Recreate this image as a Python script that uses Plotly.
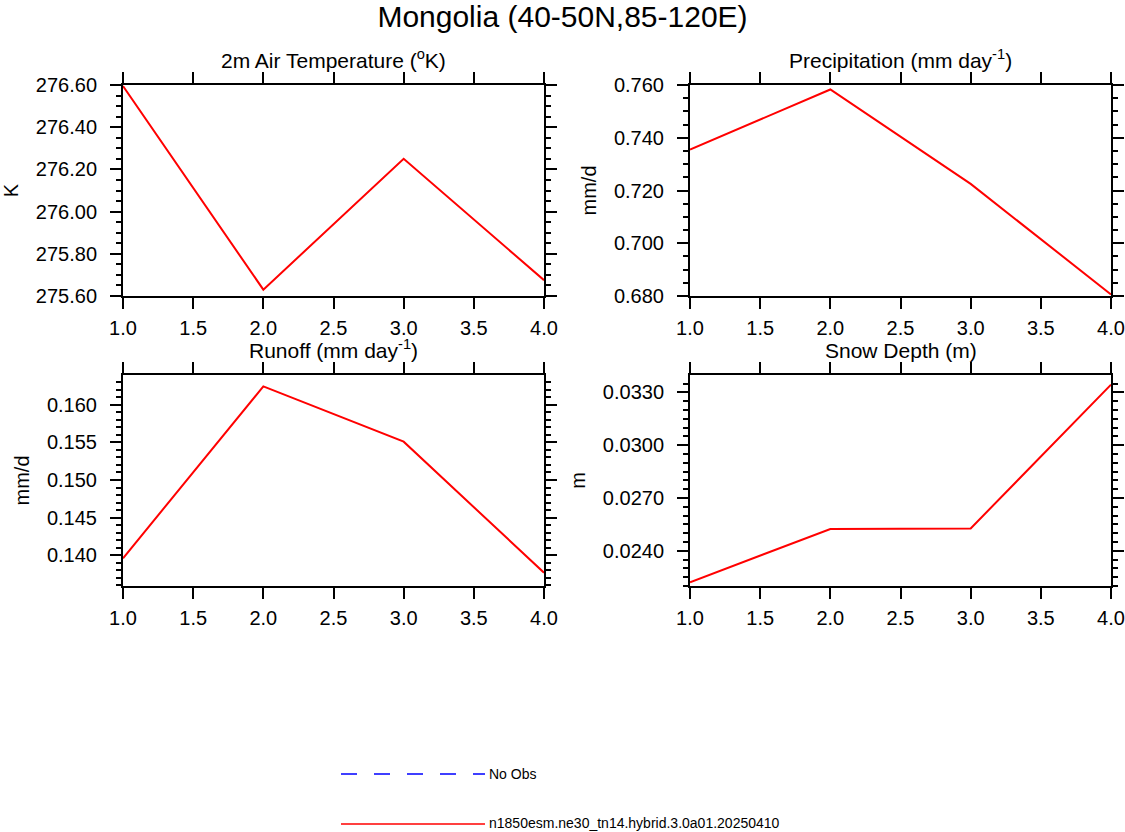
import plotly.graph_objects as go
from plotly.subplots import make_subplots

# values
years = [1, 2, 3, 4]
tas = [276.595, 275.63, 276.25, 275.675]
precip = [0.7355, 0.7583, 0.7225, 0.6806]
runoff = [0.1396, 0.16244, 0.15509, 0.13769]
snowdepth = [0.02221, 0.02524, 0.02527, 0.03344]

case_name = "n1850esm.ne30_tn14.hybrid.3.0a01.20250410"
titles = ["2m Air Temperature (<sup>o</sup>K)", "Precipitation (mm day<sup>-1</sup>)",
          "Runoff (mm day<sup>-1</sup>)", "Snow Depth (m)"]
units = ["K", "mm/d", "mm/d", "m"]

W, H = 1125, 832
FONT = "Liberation Sans, Arial, Helvetica, sans-serif"

fig = make_subplots(rows=2, cols=2)

series = [tas, precip, runoff, snowdepth]
for i, ys in enumerate(series):
    fig.add_trace(go.Scatter(x=years, y=ys, mode="lines", name=case_name,
                             line=dict(color="#ff0000", width=2),
                             showlegend=False),
                  row=i // 2 + 1, col=i % 2 + 1)

# plot boxes in pixels: (left, right, top, bottom)
boxes = [(123, 544, 85, 296), (690, 1111, 85, 296),
         (123, 544, 375, 586), (690, 1111, 375, 586)]
yaxes_cfg = [
    dict(range=[275.6, 276.6], tick0=275.6, dtick=0.2, tickformat=".2f", minor_dtick=0.05),
    dict(range=[0.68, 0.76], tick0=0.68, dtick=0.02, tickformat=".3f", minor_dtick=0.005),
    dict(range=[0.13592, 0.16395], tick0=0.14, dtick=0.005, tickformat=".3f", minor_dtick=0.001),
    dict(range=[0.0220, 0.03399], tick0=0.024, dtick=0.003, tickformat=".4f", minor_dtick=0.0005),
]

axis_common = dict(showline=True, linecolor="black", linewidth=2, mirror="ticks",
                   ticks="outside", ticklen=11, tickwidth=2, tickcolor="black",
                   showgrid=False, zeroline=False, automargin=False,
                   tickfont=dict(family=FONT, size=20, color="black"))

for i, (l, r, t, b) in enumerate(boxes):
    xa = "xaxis" if i == 0 else f"xaxis{i + 1}"
    ya = "yaxis" if i == 0 else f"yaxis{i + 1}"
    cfg = yaxes_cfg[i]
    fig.layout[xa].update(domain=[l / W, r / W], range=[1, 4], tick0=1, dtick=0.5,
                          tickformat=".1f", ticklabelstandoff=2, **axis_common)
    fig.layout[ya].update(domain=[1 - b / H, 1 - t / H], range=cfg["range"],
                          tick0=cfg["tick0"], dtick=cfg["dtick"], tickformat=cfg["tickformat"],
                          ticklabelstandoff=9,
                          minor=dict(dtick=cfg["minor_dtick"], ticks="outside", ticklen=5,
                                     tickwidth=1.5, tickcolor="black", showgrid=False),
                          title=dict(text=units[i], font=dict(family=FONT, size=20, color="black"),
                                     standoff=12),
                          **axis_common)
    fig.add_annotation(text=titles[i], x=(l + r) / 2 / W, y=1 - (t - 11) / H,
                       xref="paper", yref="paper", xanchor="center", yanchor="bottom",
                       showarrow=False, font=dict(family=FONT, size=21, color="black"))

# legend drawn beneath the panels
leg_x0, leg_x1 = 341 / W, 485 / W
fig.add_shape(type="line", xref="paper", yref="paper", x0=leg_x0, x1=leg_x1,
              y0=1 - 774 / H, y1=1 - 774 / H, line=dict(color="#0000ff", width=1.5, dash="16px,17px"))
fig.add_shape(type="line", xref="paper", yref="paper", x0=leg_x0, x1=leg_x1,
              y0=1 - 824 / H, y1=1 - 824 / H, line=dict(color="#ff0000", width=1.5))
fig.add_annotation(text="No Obs", x=487 / W, y=1 - 774 / H, xref="paper", yref="paper",
                   xanchor="left", yanchor="middle", showarrow=False,
                   font=dict(family=FONT, size=14, color="black"))
fig.add_annotation(text=case_name, x=487 / W, y=1 - 823 / H, xref="paper", yref="paper",
                   xanchor="left", yanchor="middle", showarrow=False,
                   font=dict(family=FONT, size=14, color="black"))

fig.update_layout(
    width=W, height=H,
    margin=dict(l=0, r=0, t=0, b=0),
    paper_bgcolor="white", plot_bgcolor="white",
    title=dict(text="Mongolia (40-50N,85-120E)", x=0.5, xanchor="center",
               y=1 - 16 / H, yanchor="middle",
               font=dict(family=FONT, size=30, color="black")),
    showlegend=False,
)

fig.write_html("out.html", config={"displayModeBar": False},
               post_script="document.body.style.margin='0px';")
